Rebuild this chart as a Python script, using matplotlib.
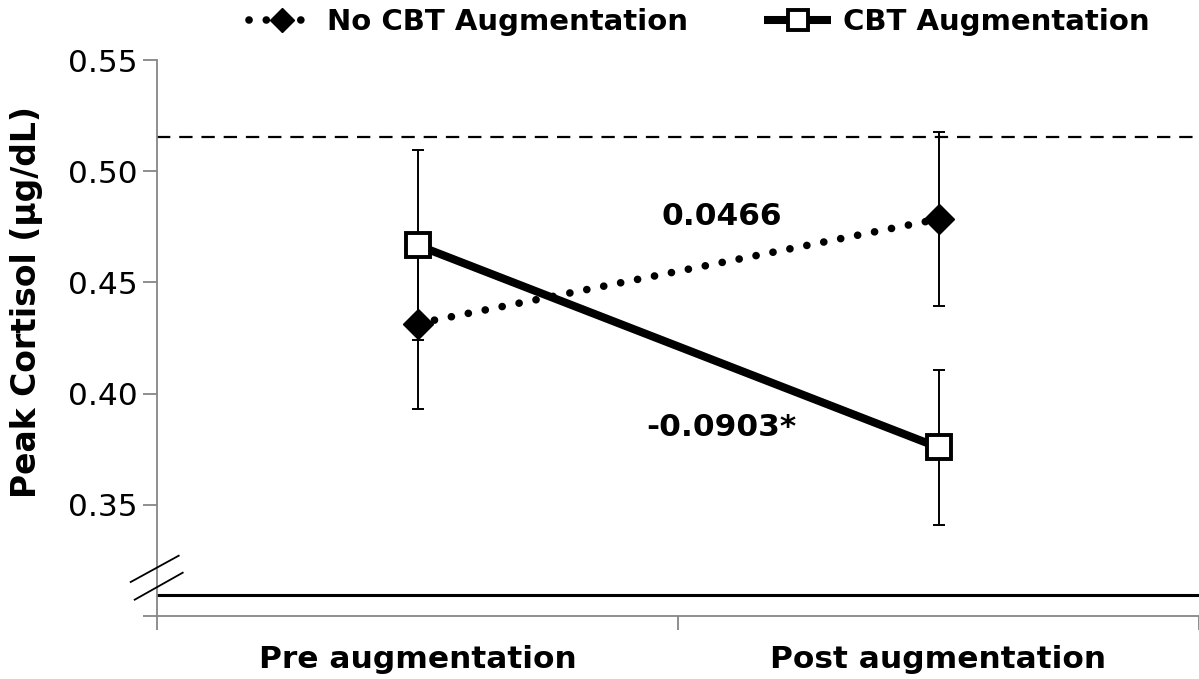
import matplotlib.pyplot as plt
from matplotlib.lines import Line2D

# chart data
timepoints = ['Pre augmentation', 'Post augmentation']
no_cbt_mean = [0.4315, 0.4785]
no_cbt_err = [0.0384, 0.039]
cbt_mean = [0.4667, 0.3758]
cbt_err = [0.0428, 0.0350]
reference_level = 0.5152
floor_level = 0.3095
change_labels = ['0.0466', '-0.0903*']
label_pos = [(0.584, 0.4797), (0.584, 0.3847)]

grey = '#868686'
plt.rcParams['font.family'] = ['DejaVu Sans']

fig = plt.figure(figsize=(11.99, 6.79), dpi=100)
ax = fig.add_axes([157 / 1199, 1 - 616 / 679, 1 - 157 / 1199, 556 / 679])

x = list(range(len(timepoints)))

# reference lines
ax.axhline(reference_level, color='black', lw=1.6, dashes=(6, 4), zorder=1)
ax.axhline(floor_level, color='black', lw=2.2, zorder=1)

# error bars
ax.errorbar(x, no_cbt_mean, yerr=no_cbt_err, fmt='none', ecolor='black',
            elinewidth=1.4, capsize=4.3, capthick=1.4, zorder=2)
ax.errorbar(x, cbt_mean, yerr=cbt_err, fmt='none', ecolor='black',
            elinewidth=1.4, capsize=4.3, capthick=1.4, zorder=2)

# series
l1, = ax.plot(x, no_cbt_mean, color='black', lw=5.5, dashes=(0.01, 2.25),
              dash_capstyle='round', marker='D', markersize=15,
              markerfacecolor='black', markeredgecolor='black', zorder=3,
              label='No CBT Augmentation')
l2, = ax.plot(x, cbt_mean, color='black', lw=5.8, solid_capstyle='butt',
              marker='s', markersize=17.5, markerfacecolor='white',
              markeredgecolor='black', markeredgewidth=2.8, zorder=4,
              label='CBT Augmentation')

for txt, (tx, ty) in zip(change_labels, label_pos):
    ax.text(tx, ty, txt, ha='center', va='center', fontsize=22.5,
            fontweight='bold', zorder=5)

ax.set_xlim(-0.5, 1.5)
ax.set_ylim(0.30, 0.55)
ax.set_yticks([0.30, 0.35, 0.40, 0.45, 0.50, 0.55])
ax.set_yticklabels(['', '0.35', '0.40', '0.45', '0.50', '0.55'], fontsize=22.5)
ax.set_xticks(x)
ax.set_xticklabels(timepoints, fontsize=22.5, fontweight='bold')
ax.set_xticks([-0.5, 0.5, 1.5], minor=True)
ax.tick_params(axis='x', which='major', length=0, pad=21)
ax.tick_params(axis='x', which='minor', length=10, width=1.3, color=grey)
ax.tick_params(axis='y', length=10, width=1.3, color=grey, pad=4)

fig.text(27 / 1199, 1 - 302 / 679, 'Peak Cortisol (µg/dL)', rotation=90,
         ha='center', va='center', fontsize=23.8, fontweight='bold')

for side in ['top', 'right']:
    ax.spines[side].set_visible(False)
for side in ['left', 'bottom']:
    ax.spines[side].set_color(grey)
    ax.spines[side].set_linewidth(1.3)

# axis break marks
for (x0, y0), (x1, y1) in [((130.7, 582), (178.7, 555.7)), ((134.7, 599.7), (182.7, 572.7))]:
    fig.add_artist(Line2D([x0 / 1199, x1 / 1199], [1 - y0 / 679, 1 - y1 / 679],
                          color='black', lw=1.3))

leg = fig.legend(handles=[l1, l2], loc='center', ncol=2,
                 bbox_to_anchor=(699 / 1199, 1 - 22 / 679), frameon=False,
                 prop={'size': 21, 'weight': 'bold'}, handlelength=2.3,
                 handletextpad=0.4, columnspacing=2.6, markerscale=0.8,
                 borderaxespad=0, borderpad=0)

fig.savefig('out.png', dpi=100)
